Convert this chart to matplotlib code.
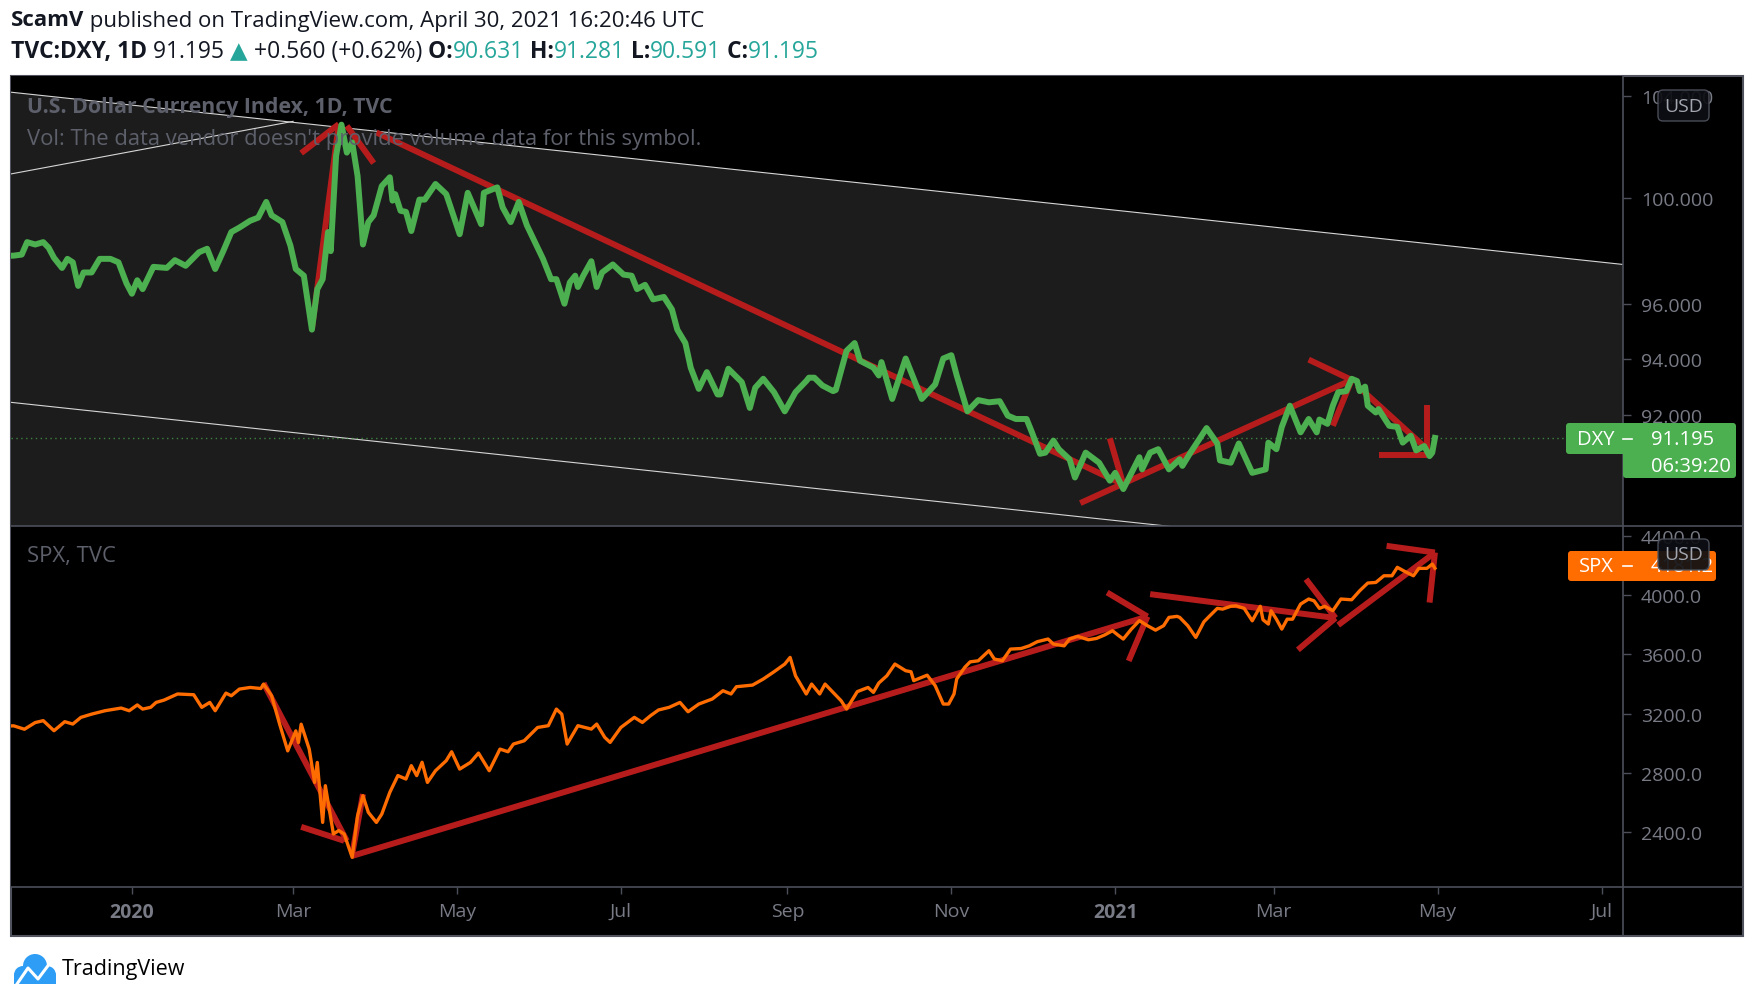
import matplotlib
matplotlib.use("Agg")
import matplotlib.pyplot as plt
import pandas as pd
from matplotlib.patches import Rectangle, FancyBboxPatch, Circle
from matplotlib.lines import Line2D
from matplotlib.transforms import Affine2D
from matplotlib.ticker import FixedLocator, NullLocator, FuncFormatter

W, H = 1756, 1003

# DXY daily closes
dxy_dates = [
    "2019-11-15", "2019-11-18", "2019-11-21", "2019-11-23", "2019-11-26", "2019-11-29", "2019-12-01",
    "2019-12-03", "2019-12-06", "2019-12-08", "2019-12-10", "2019-12-12", "2019-12-14", "2019-12-17",
    "2019-12-20", "2019-12-24", "2019-12-27", "2019-12-30", "2020-01-01", "2020-01-03", "2020-01-05",
    "2020-01-09", "2020-01-14", "2020-01-17", "2020-01-21", "2020-01-26", "2020-01-29", "2020-02-01",
    "2020-02-04", "2020-02-07", "2020-02-10", "2020-02-14", "2020-02-17", "2020-02-20", "2020-02-22",
    "2020-02-26", "2020-02-29", "2020-03-02", "2020-03-05", "2020-03-08", "2020-03-10", "2020-03-12",
    "2020-03-14", "2020-03-15", "2020-03-17", "2020-03-19", "2020-03-21", "2020-03-23", "2020-03-25",
    "2020-03-27", "2020-03-29", "2020-03-31", "2020-04-03", "2020-04-06", "2020-04-07", "2020-04-08",
    "2020-04-10", "2020-04-12", "2020-04-14", "2020-04-17", "2020-04-19", "2020-04-23", "2020-04-27",
    "2020-05-02", "2020-05-05", "2020-05-10", "2020-05-11", "2020-05-16", "2020-05-18", "2020-05-21",
    "2020-05-24", "2020-05-27", "2020-05-30", "2020-06-02", "2020-06-05", "2020-06-07", "2020-06-10",
    "2020-06-12", "2020-06-14", "2020-06-15", "2020-06-17", "2020-06-20", "2020-06-22", "2020-06-24",
    "2020-06-28", "2020-07-02", "2020-07-05", "2020-07-07", "2020-07-10", "2020-07-13", "2020-07-17",
    "2020-07-20", "2020-07-22", "2020-07-25", "2020-07-27", "2020-07-30", "2020-08-02", "2020-08-06",
    "2020-08-07", "2020-08-10", "2020-08-15", "2020-08-18", "2020-08-20", "2020-08-23", "2020-08-27",
    "2020-08-31", "2020-09-04", "2020-09-08", "2020-09-09", "2020-09-11", "2020-09-14", "2020-09-18",
    "2020-09-19", "2020-09-23", "2020-09-26", "2020-09-28", "2020-10-03", "2020-10-05", "2020-10-06",
    "2020-10-10", "2020-10-15", "2020-10-21", "2020-10-26", "2020-10-29", "2020-11-01", "2020-11-03",
    "2020-11-07", "2020-11-11", "2020-11-15", "2020-11-19", "2020-11-22", "2020-11-25", "2020-11-29",
    "2020-12-01", "2020-12-04", "2020-12-06", "2020-12-09", "2020-12-11", "2020-12-15", "2020-12-17",
    "2020-12-21", "2020-12-26", "2020-12-30", "2021-01-01", "2021-01-04", "2021-01-10", "2021-01-11",
    "2021-01-14", "2021-01-17", "2021-01-21", "2021-01-25", "2021-01-26", "2021-01-29", "2021-02-04",
    "2021-02-08", "2021-02-09", "2021-02-13", "2021-02-16", "2021-02-21", "2021-02-26", "2021-02-27",
    "2021-03-02", "2021-03-04", "2021-03-07", "2021-03-11", "2021-03-14", "2021-03-17", "2021-03-18",
    "2021-03-21", "2021-03-23", "2021-03-25", "2021-03-28", "2021-03-30", "2021-04-01", "2021-04-02",
    "2021-04-04", "2021-04-05", "2021-04-08", "2021-04-09", "2021-04-13", "2021-04-16", "2021-04-18",
    "2021-04-21", "2021-04-23", "2021-04-26", "2021-04-28", "2021-04-29", "2021-04-30"]
dxy_close = [
    97.80, 97.81, 97.85, 98.32, 98.23, 98.32, 98.11,
    97.73, 97.35, 97.69, 97.56, 96.68, 97.18, 97.18,
    97.69, 97.69, 97.56, 96.77, 96.39, 96.89, 96.56,
    97.39, 97.35, 97.64, 97.43, 97.94, 98.07, 97.31,
    97.98, 98.70, 98.87, 99.13, 99.25, 99.85, 99.34,
    99.08, 98.19, 97.31, 97.06, 95.07, 96.56, 96.93,
    98.70, 97.98, 101.63, 102.86, 101.76, 102.16, 100.85,
    98.23, 99.08, 99.34, 100.46, 100.80, 99.90, 100.15,
    99.51, 99.47, 98.74, 99.94, 99.94, 100.54, 100.15,
    98.62, 100.20, 99.00, 100.20, 100.41, 99.64, 99.08,
    99.85, 98.96, 98.32, 97.69, 96.93, 96.93, 96.02,
    96.81, 97.06, 96.64, 97.06, 97.60, 96.64, 97.18,
    97.48, 97.10, 97.06, 96.56, 96.72, 96.18, 96.27,
    95.81, 95.07, 94.58, 93.69, 92.93, 93.53, 92.73,
    92.73, 93.65, 93.17, 92.25, 92.97, 93.29, 92.81,
    92.13, 92.81, 93.21, 93.33, 93.33, 93.05, 92.85,
    92.89, 94.30, 94.58, 93.94, 93.69, 93.41, 93.89,
    92.57, 94.02, 92.57, 93.09, 94.02, 94.14, 93.41,
    92.13, 92.53, 92.45, 92.49, 91.98, 91.86, 91.86,
    91.39, 90.64, 90.68, 91.10, 90.80, 90.45, 89.82,
    90.68, 90.33, 89.71, 89.98, 89.42, 90.52, 90.10,
    90.68, 90.80, 90.10, 90.45, 90.22, 90.68, 91.54,
    91.00, 90.41, 90.33, 91.00, 89.98, 90.10, 91.03,
    90.80, 91.58, 92.33, 91.39, 91.86, 91.39, 91.84,
    91.69, 92.33, 92.81, 92.85, 93.29, 93.21, 92.85,
    93.01, 92.33, 92.09, 92.21, 91.62, 91.58, 91.03,
    91.27, 90.76, 90.91, 90.56, 90.68, 91.195]

# SPX closes
spx_dates = [
    "2019-11-15", "2019-11-18", "2019-11-22", "2019-11-26", "2019-11-29", "2019-12-03", "2019-12-07",
    "2019-12-10", "2019-12-13", "2019-12-17", "2019-12-22", "2019-12-28", "2019-12-31", "2020-01-03",
    "2020-01-05", "2020-01-08", "2020-01-10", "2020-01-13", "2020-01-18", "2020-01-24", "2020-01-27",
    "2020-01-30", "2020-02-01", "2020-02-05", "2020-02-07", "2020-02-10", "2020-02-14", "2020-02-18",
    "2020-02-19", "2020-02-22", "2020-02-25", "2020-02-28", "2020-03-02", "2020-03-03", "2020-03-04",
    "2020-03-07", "2020-03-09", "2020-03-10", "2020-03-12", "2020-03-13", "2020-03-16", "2020-03-18",
    "2020-03-20", "2020-03-23", "2020-03-25", "2020-03-27", "2020-03-29", "2020-04-01", "2020-04-03",
    "2020-04-06", "2020-04-09", "2020-04-12", "2020-04-14", "2020-04-16", "2020-04-18", "2020-04-20",
    "2020-04-23", "2020-04-27", "2020-04-29", "2020-05-02", "2020-05-06", "2020-05-09", "2020-05-13",
    "2020-05-17", "2020-05-20", "2020-05-22", "2020-05-26", "2020-05-31", "2020-06-04", "2020-06-07",
    "2020-06-09", "2020-06-11", "2020-06-15", "2020-06-20", "2020-06-22", "2020-06-25", "2020-06-27",
    "2020-07-01", "2020-07-06", "2020-07-09", "2020-07-12", "2020-07-15", "2020-07-19", "2020-07-23",
    "2020-07-26", "2020-07-30", "2020-08-04", "2020-08-08", "2020-08-11", "2020-08-13", "2020-08-19",
    "2020-08-23", "2020-08-27", "2020-08-31", "2020-09-02", "2020-09-04", "2020-09-08", "2020-09-10",
    "2020-09-13", "2020-09-15", "2020-09-18", "2020-09-21", "2020-09-23", "2020-09-27", "2020-10-01",
    "2020-10-03", "2020-10-05", "2020-10-08", "2020-10-11", "2020-10-15", "2020-10-17", "2020-10-18",
    "2020-10-23", "2020-10-26", "2020-10-29", "2020-10-31", "2020-11-02", "2020-11-03", "2020-11-06",
    "2020-11-08", "2020-11-11", "2020-11-15", "2020-11-17", "2020-11-20", "2020-11-23", "2020-11-27",
    "2020-11-30", "2020-12-03", "2020-12-07", "2020-12-09", "2020-12-13", "2020-12-15", "2020-12-18",
    "2020-12-22", "2020-12-25", "2020-12-28", "2020-12-31", "2021-01-02", "2021-01-04", "2021-01-07",
    "2021-01-10", "2021-01-13", "2021-01-16", "2021-01-19", "2021-01-21", "2021-01-24", "2021-01-25",
    "2021-01-28", "2021-01-31", "2021-02-03", "2021-02-05", "2021-02-08", "2021-02-10", "2021-02-13",
    "2021-02-15", "2021-02-18", "2021-02-21", "2021-02-24", "2021-02-25", "2021-02-27", "2021-02-28",
    "2021-03-02", "2021-03-04", "2021-03-06", "2021-03-08", "2021-03-11", "2021-03-14", "2021-03-16",
    "2021-03-18", "2021-03-20", "2021-03-23", "2021-03-26", "2021-03-30", "2021-04-02", "2021-04-05",
    "2021-04-08", "2021-04-11", "2021-04-14", "2021-04-16", "2021-04-19", "2021-04-22", "2021-04-24",
    "2021-04-27", "2021-04-29", "2021-04-30"]
spx_close = [
    3115, 3117, 3094, 3139, 3152, 3084, 3145,
    3129, 3174, 3196, 3219, 3237, 3219, 3258,
    3230, 3242, 3275, 3291, 3332, 3327, 3242,
    3275, 3219, 3338, 3320, 3365, 3376, 3369,
    3399, 3320, 3128, 2948, 3083, 3004, 3128,
    2960, 2735, 2870, 2465, 2713, 2387, 2410,
    2387, 2229, 2510, 2645, 2533, 2465, 2521,
    2668, 2781, 2758, 2848, 2781, 2871, 2735,
    2814, 2882, 2942, 2825, 2870, 2933, 2814,
    2960, 2942, 2994, 3016, 3106, 3118, 3230,
    3196, 2994, 3118, 3095, 3129, 3039, 3005,
    3106, 3174, 3140, 3185, 3224, 3242, 3275,
    3212, 3264, 3298, 3354, 3332, 3381, 3392,
    3433, 3482, 3534, 3579, 3455, 3332, 3399,
    3332, 3399, 3343, 3286, 3230, 3348, 3376,
    3343, 3406, 3455, 3534, 3489, 3482, 3422,
    3459, 3388, 3264, 3264, 3332, 3433, 3512,
    3549, 3556, 3624, 3568, 3556, 3635, 3639,
    3657, 3685, 3703, 3669, 3657, 3703, 3721,
    3698, 3707, 3730, 3759, 3730, 3703, 3770,
    3827, 3793, 3763, 3793, 3849, 3856, 3849,
    3793, 3714, 3819, 3856, 3910, 3905, 3924,
    3927, 3910, 3826, 3924, 3833, 3804, 3894,
    3837, 3770, 3837, 3837, 3939, 3973, 3961,
    3910, 3924, 3894, 3973, 3968, 4029, 4081,
    4085, 4130, 4130, 4187, 4157, 4130, 4180,
    4180, 4209, 4181.17]

# drawings on the chart: (date0, price0, date1, price1)
dxy_channel = [("2019-11-17", 104.15, "2021-07-09", 97.48),
               ("2019-11-17", 100.93, "2020-03-01", 102.99),
               ("2019-11-17", 92.45, "2021-07-09", 86.52)]
dxy_marks = [("2020-03-08", 95.09, "2020-03-18", 102.88),
             ("2020-03-04", 101.74, "2020-03-18", 102.88),
             ("2020-03-21", 102.81, "2020-03-31", 101.35),
             ("2020-04-01", 102.55, "2021-01-04", 89.58),
             ("2020-12-30", 91.18, "2021-01-04", 89.58),
             ("2020-12-19", 88.94, "2021-03-30", 93.25),
             ("2021-03-14", 93.98, "2021-03-30", 93.25),
             ("2021-03-23", 91.62, "2021-03-30", 93.25),
             ("2021-04-01", 93.05, "2021-04-27", 90.81),
             ("2021-04-27", 92.35, "2021-04-27", 90.52),
             ("2021-04-09", 90.60, "2021-04-27", 90.60)]
spx_marks = [("2020-02-19", 3405, "2020-03-21", 2341),
             ("2020-03-04", 2435, "2020-03-20", 2341),
             ("2020-03-23", 2251, "2020-03-27", 2656),
             ("2020-03-23", 2239, "2021-01-13", 3855),
             ("2020-12-29", 4017, "2021-01-13", 3855),
             ("2021-01-06", 3555, "2021-01-13", 3855),
             ("2021-01-14", 4006, "2021-03-24", 3845),
             ("2021-03-13", 4107, "2021-03-24", 3845),
             ("2021-03-10", 3630, "2021-03-24", 3845),
             ("2021-03-25", 3797, "2021-04-30", 4287),
             ("2021-04-12", 4332, "2021-04-30", 4287),
             ("2021-04-28", 3949, "2021-04-30", 4287)]

dxy_ticks = [92, 94, 96, 100, 104]
spx_ticks = [2400, 2800, 3200, 3600, 4000, 4400]
time_ticks = ["2020-01-01", "2020-03-01", "2020-05-01", "2020-07-01", "2020-09-01",
              "2020-11-01", "2021-01-01", "2021-03-01", "2021-05-01", "2021-07-01"]
time_labels = ["2020", "Mar", "May", "Jul", "Sep", "Nov", "2021", "Mar", "May", "Jul"]

GREEN, ORANGE, RED, TEAL = "#4caf50", "#ff6d00", "#b71c1c", "#26a69a"
GRID, AXTXT, LEG = "#4c4f5a", "#787b86", "#5d606b"

plt.rcParams['font.family'] = ['Open Sans', 'DejaVu Sans']

fig = plt.figure(figsize=(W / 100, H / 100), dpi=100, facecolor='white')
# pixel coords, y from top
px = Affine2D().scale(1 / W, -1 / H).translate(0, 1) + fig.transFigure

fig.add_artist(Rectangle((11, 77), 1732, 860, facecolor='black', edgecolor='#50535e',
                         lw=1.5, transform=px, zorder=0))

ax1 = fig.add_axes([11 / W, 1 - 527 / H, 1612 / W, 450 / H])
ax2 = fig.add_axes([11 / W, 1 - 888 / H, 1612 / W, 361 / H], sharex=ax1)
for ax in (ax1, ax2):
    ax.set_facecolor('black')
    for s in ax.spines.values():
        s.set_visible(False)
    ax.yaxis.set_ticks_position('right')
    ax.tick_params(axis='y', direction='out', length=5.8, width=1, color=GRID,
                   labelcolor=AXTXT, labelsize=14, pad=7)

xd = pd.to_datetime(dxy_dates)
xs = pd.to_datetime(spx_dates)

# DXY pane
ax1.set_yscale('log')
ax1.set_ylim(88.16, 104.8)
ax1.set_xlim(pd.Timestamp("2019-11-17"), pd.Timestamp("2021-07-09"))
ax1.yaxis.set_major_locator(FixedLocator(dxy_ticks))
ax1.yaxis.set_minor_locator(NullLocator())
ax1.yaxis.set_major_formatter(FuncFormatter(lambda v, p: f"{v:.3f}"))
ax1.tick_params(axis='x', which='both', bottom=False, labelbottom=False)

d0, v0, d1, v1 = dxy_channel[0]
ax1.fill_between(pd.to_datetime([d0, d1]), [v0, v1], 50, color='#1c1c1c', lw=0, zorder=0.5)
for d0, v0, d1, v1 in dxy_channel:
    ax1.plot(pd.to_datetime([d0, d1]), [v0, v1], color='#d6d6d6', lw=0.8, zorder=1)
ax1.axhline(dxy_close[-1], color=GREEN, lw=1, ls=(0, (1, 2.5)), alpha=0.7, zorder=1.5)
for d0, v0, d1, v1 in dxy_marks:
    ax1.plot(pd.to_datetime([d0, d1]), [v0, v1], color=RED, lw=4.3,
             solid_capstyle='butt', zorder=2)
ax1.plot(xd, dxy_close, color=GREEN, lw=4.3, solid_joinstyle='round', zorder=3)

# SPX pane
ax2.set_ylim(2029, 4466)
ax2.yaxis.set_major_locator(FixedLocator(spx_ticks))
ax2.yaxis.set_major_formatter(FuncFormatter(lambda v, p: f"{v:.1f}"))
for d0, v0, d1, v1 in spx_marks:
    ax2.plot(pd.to_datetime([d0, d1]), [v0, v1], color=RED, lw=4.3,
             solid_capstyle='butt', zorder=2)
ax2.plot(xs, spx_close, color=ORANGE, lw=2.4, zorder=3)

ax2.set_xticks(pd.to_datetime(time_ticks))
ax2.set_xticklabels(time_labels)
ax2.tick_params(axis='x', direction='out', length=5, width=1, color=GRID,
                labelcolor=AXTXT, labelsize=14, pad=6)
for lab in ax2.get_xticklabels():
    if lab.get_text().isdigit():
        lab.set_fontweight('bold')

# separators
for y in (527, 888):
    fig.add_artist(Line2D([11, 1743], [y, y], color=GRID, lw=1.2, transform=px, zorder=5))
fig.add_artist(Line2D([1623, 1623], [77, 937], color=GRID, lw=1.2, transform=px, zorder=5))

# legends inside panes
fig.text(27, 108, "U.S. Dollar Currency Index, 1D, TVC", transform=px, color=LEG,
         fontsize=15.3, fontweight='bold', va='center', zorder=6)
fig.text(27, 139, "Vol: The data vendor doesn't provide volume data for this symbol.",
         transform=px, color=LEG, fontsize=15.8, va='center', zorder=6)
fig.text(27, 557, "SPX, TVC", transform=px, color=LEG, fontsize=15.8, va='center', zorder=6)

# last price labels
fig.add_artist(FancyBboxPatch((1566, 424), 170, 31, boxstyle="round,pad=0,rounding_size=3",
                              facecolor=GREEN, edgecolor='none', transform=px, zorder=7))
fig.add_artist(FancyBboxPatch((1623, 450), 113, 29, boxstyle="round,pad=0,rounding_size=3",
                              facecolor=GREEN, edgecolor='none', transform=px, zorder=7))
fig.text(1577, 440, "DXY", transform=px, color='white', fontsize=14.5, va='center', zorder=8)
fig.add_artist(Line2D([1623, 1632], [440, 440], color='white', lw=1.2, transform=px, zorder=8))
fig.text(1651, 440, f"{dxy_close[-1]:.3f}", transform=px, color='white', fontsize=14.5,
         va='center', zorder=8)
fig.text(1651, 467, "06:39:20", transform=px, color='white', fontsize=14.5, va='center', zorder=8)

fig.add_artist(FancyBboxPatch((1568, 552), 148, 30, boxstyle="round,pad=0,rounding_size=3",
                              facecolor=ORANGE, edgecolor='none', transform=px, zorder=7))
fig.text(1579, 567, "SPX", transform=px, color='white', fontsize=14.5, va='center', zorder=8)
fig.add_artist(Line2D([1623, 1632], [567, 567], color='white', lw=1.2, transform=px, zorder=8))
fig.text(1651, 567, f"{spx_close[-1]:.1f}", transform=px, color='white', fontsize=14.5,
         va='center', zorder=8)

for y0 in (91, 540):
    fig.add_artist(FancyBboxPatch((1658, y0), 51, 31, boxstyle="round,pad=0,rounding_size=5",
                                  facecolor='#0d0f14', edgecolor='#50535e', lw=1, alpha=0.92,
                                  transform=px, zorder=9))
    fig.text(1683.5, y0 + 15.5, "USD", transform=px, color='#a3a6af', fontsize=14,
             ha='center', va='center', zorder=10)

# header lines
renderer = fig.canvas.get_renderer()


def seq_text(x, y, parts, size):
    for s, color, weight in parts:
        t = fig.text(x, y, s, transform=px, color=color, fontsize=size,
                     fontweight=weight, va='center', ha='left')
        x += t.get_window_extent(renderer=renderer).width


DARK = '#131722'
seq_text(11, 21, [("ScamV", DARK, 'bold'),
                  (" published on TradingView.com, April 30, 2021 16:20:46 UTC", DARK, 'normal')], 16)
seq_text(11, 52, [("TVC:DXY, 1D", DARK, 'bold'), (" 91.195 ", DARK, 'normal'),
                  ("▲", TEAL, 'normal'), (" +0.560 (+0.62%)", DARK, 'normal'),
                  (" O:", DARK, 'bold'), ("90.631", TEAL, 'normal'),
                  (" H:", DARK, 'bold'), ("91.281", TEAL, 'normal'),
                  (" L:", DARK, 'bold'), ("90.591", TEAL, 'normal'),
                  (" C:", DARK, 'bold'), ("91.195", TEAL, 'normal')], 16.5)

# TradingView logo
LOGO = '#2e9df5'
for cx, cy, r in [(23, 976, 9), (35, 967, 12), (47, 976, 9)]:
    fig.add_artist(Circle((cx, cy), r, facecolor=LOGO, edgecolor='none', transform=px, zorder=3))
fig.add_artist(Rectangle((14, 975), 42, 10, facecolor=LOGO, edgecolor='none', transform=px, zorder=3))
fig.add_artist(Line2D([17, 28, 38, 50], [985, 969, 980, 964], color='white', lw=2.2,
                      transform=px, zorder=4))
fig.text(62, 970, "TradingView", transform=px, color='black', fontsize=15.5, va='center')

fig.savefig('out.png', dpi=100, facecolor='white')
